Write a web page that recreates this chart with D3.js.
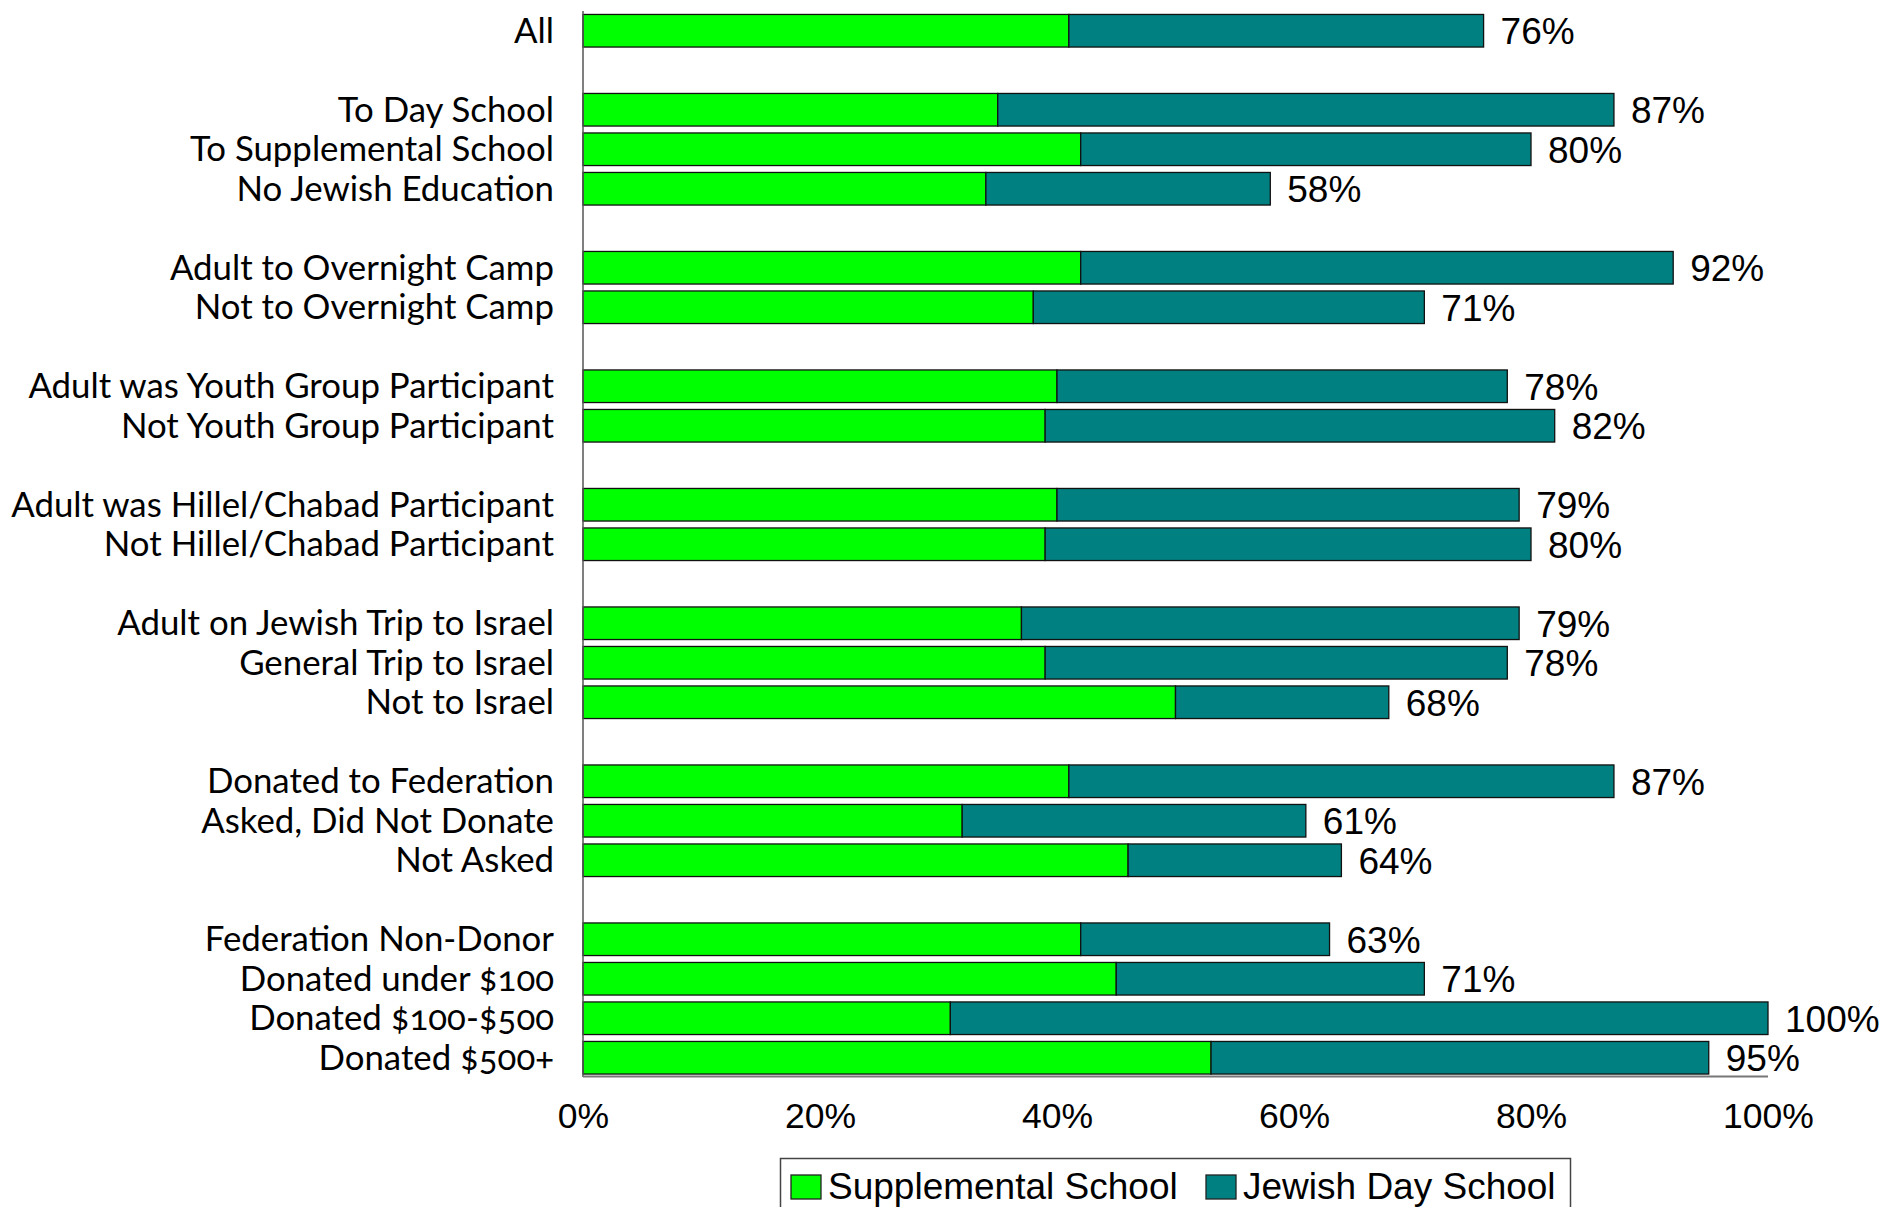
<!DOCTYPE html>
<html>
<head>
<meta charset="utf-8">
<script src="https://cdn.jsdelivr.net/npm/d3@7"></script>
<style>
  html, body { margin: 0; padding: 0; background: #fff; }
  svg { display: block; }
  .cat { font-family: Lato, "Open Sans", sans-serif; font-size: 34.8px; fill: #000; font-variant-numeric: oldstyle-nums; }
  .num { font-family: "Liberation Sans", Arial, sans-serif; font-size: 37px; fill: #000; }
</style>
</head>
<body>
<svg id="chart" width="1885" height="1207"></svg>
<script>
const categories = [
  "All",
  "To Day School", "To Supplemental School", "No Jewish Education",
  "Adult to Overnight Camp", "Not to Overnight Camp",
  "Adult was Youth Group Participant", "Not Youth Group Participant",
  "Adult was Hillel/Chabad Participant", "Not Hillel/Chabad Participant",
  "Adult on Jewish Trip to Israel", "General Trip to Israel", "Not to Israel",
  "Donated to Federation", "Asked, Did Not Donate", "Not Asked",
  "Federation Non-Donor", "Donated under $100", "Donated $100-$500", "Donated $500+"
];
const groupOf = [0, 1,1,1, 2,2, 3,3, 4,4, 5,5,5, 6,6,6, 7,7,7,7];
const supplemental = [41, 35,42,34, 42,38, 40,39, 40,39, 37,39,50, 41,32,46, 42,45,31,53];
const totals      = [76, 87,80,58, 92,71, 78,82, 79,80, 79,78,68, 87,61,64, 63,71,100,95];
const xTicks = [0, 20, 40, 60, 80, 100];
const seriesNames = ["Supplemental School", "Jewish Day School"];
const seriesColors = ["#00FF00", "#008080"];

const rows = categories.map((c, i) => ({
  key: c, label: c, group: groupOf[i],
  supp: supplemental[i], day: totals[i] - supplemental[i], total: totals[i]
}));

// band domain with spacer slots between groups
const domain = [];
rows.forEach((r, i) => {
  if (i > 0 && r.group !== rows[i - 1].group) domain.push("__gap" + r.group);
  domain.push(r.key);
});

const svg = d3.select("#chart");
const x = d3.scaleLinear().domain([0, 100]).range([583, 1768]);
const y = d3.scaleBand().domain(domain).range([11, 1077.5]).paddingInner(0.175).paddingOuter(0.0875);

const stack = d3.stack().keys(["supp", "day"])(rows);

const g = svg.append("g");
stack.forEach((layer, li) => {
  g.append("g").selectAll("rect").data(layer).join("rect")
    .attr("x", d => x(d[0]))
    .attr("y", d => y(d.data.key))
    .attr("width", d => x(d[1]) - x(d[0]))
    .attr("height", y.bandwidth())
    .attr("fill", seriesColors[li])
    .attr("stroke", "#111")
    .attr("stroke-width", 1.3);
});

// axes lines
svg.append("line").attr("x1", x(0)).attr("x2", x(0)).attr("y1", 11).attr("y2", 1077)
  .attr("stroke", "#555").attr("stroke-width", 1.5);
svg.append("line").attr("x1", x(0)).attr("x2", x(100)).attr("y1", 1076.5).attr("y2", 1076.5)
  .attr("stroke", "#777").attr("stroke-width", 2);

// category labels
svg.append("g").selectAll("text").data(rows).join("text")
  .attr("class", "cat")
  .attr("x", 554)
  .attr("y", d => y(d.key) + y.bandwidth() / 2)
  .attr("dy", "0.35em")
  .attr("text-anchor", "end")
  .text(d => d.label);

// total value labels
svg.append("g").selectAll("text").data(rows).join("text")
  .attr("class", "num")
  .attr("x", d => x(d.total) + 17)
  .attr("y", d => y(d.key) + y.bandwidth() / 2)
  .attr("dy", "0.36em")
  .text(d => d.total + "%");

// x axis tick labels
const xAxis = d3.axisBottom(x).tickValues(xTicks).tickFormat(d => d + "%").tickSize(0).tickPadding(0);
const ax = svg.append("g").attr("transform", "translate(0,1103)").call(xAxis);
ax.select(".domain").remove();
ax.selectAll("text").attr("class", "num").attr("fill", "#000").attr("dy", "0.71em").style("font-size", "35.5px");

// legend
const lg = svg.append("g");
lg.append("rect").attr("x", 780.5).attr("y", 1158.5).attr("width", 790).attr("height", 60)
  .attr("fill", "#fff").attr("stroke", "#444").attr("stroke-width", 1.5);
const legendX = [791, 1206];
seriesNames.forEach((n, i) => {
  lg.append("rect").attr("x", legendX[i]).attr("y", 1175).attr("width", 30).attr("height", 24)
    .attr("fill", seriesColors[i]).attr("stroke", "#222").attr("stroke-width", 1.3);
  lg.append("text").attr("class", "num").attr("x", legendX[i] + 37).attr("y", 1199)
    .style("font-size", "37px").text(n);
});
</script>
</body>
</html>
